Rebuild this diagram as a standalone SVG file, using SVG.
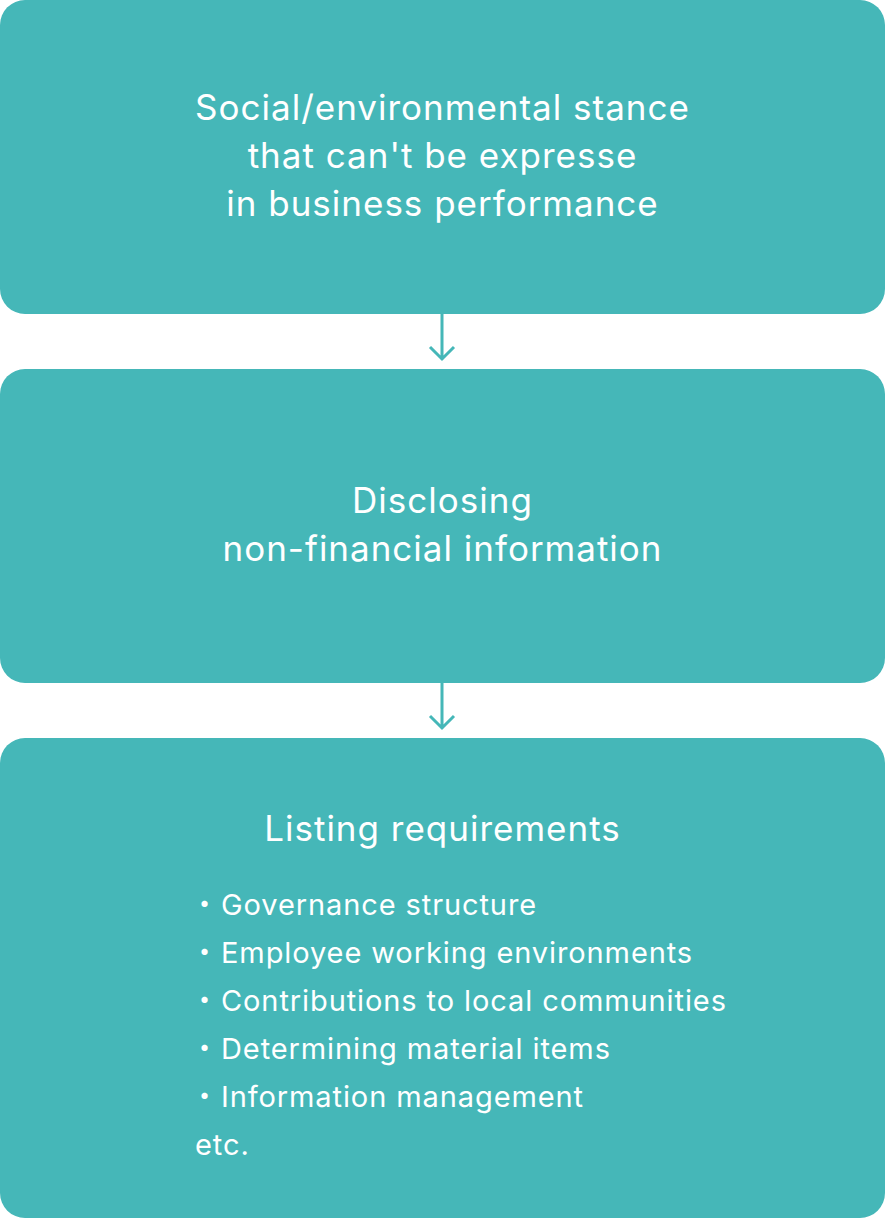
<svg xmlns="http://www.w3.org/2000/svg" width="885" height="1218" viewBox="0 0 885 1218">
<style>
.box{fill:#45B7B8}
.t{font-family:Inter,"Noto Sans CJK JP","Noto Sans",sans-serif;fill:#ffffff}
.h{font-size:35px;text-anchor:middle;letter-spacing:1px}
.b{font-size:29px;letter-spacing:0.9px}
.d{font-size:29px}
.c{stroke:#45B7B8;stroke-width:3;fill:none}
</style>
<rect width="885" height="1218" fill="#ffffff"/>
<g id="node1">
<rect class="box" x="0" y="0" width="885" height="314" rx="25"/>
<text class="t h" x="442.5" y="120">Social/environmental stance</text>
<text class="t h" x="442.5" y="168">that can't be expresse</text>
<text class="t h" x="442.5" y="216">in business performance</text>
</g>
<g id="node2">
<rect class="box" x="0" y="369" width="885" height="314" rx="25"/>
<text class="t h" x="442.5" y="513">Disclosing</text>
<text class="t h" x="442.5" y="561">non-financial information</text>
</g>
<g id="node3">
<rect class="box" x="0" y="738" width="885" height="480" rx="25"/>
<text class="t h" x="442.5" y="841">Listing requirements</text>
<text class="t d" x="190" y="915">・</text>
<text class="t b" x="221" y="915">Governance structure</text>
<text class="t d" x="190" y="963">・</text>
<text class="t b" x="221" y="963">Employee working environments</text>
<text class="t d" x="190" y="1011">・</text>
<text class="t b" x="221" y="1011">Contributions to local communities</text>
<text class="t d" x="190" y="1059">・</text>
<text class="t b" x="221" y="1059">Determining material items</text>
<text class="t d" x="190" y="1107">・</text>
<text class="t b" x="221" y="1107">Information management</text>
<text class="t b" x="195" y="1155">etc.</text>
</g>
<g id="connectors">
<path class="c" d="M442 314V359M430 347L442 359L454 347"/>
<path class="c" d="M442 683V728M430 716L442 728L454 716"/>
</g>
</svg>
